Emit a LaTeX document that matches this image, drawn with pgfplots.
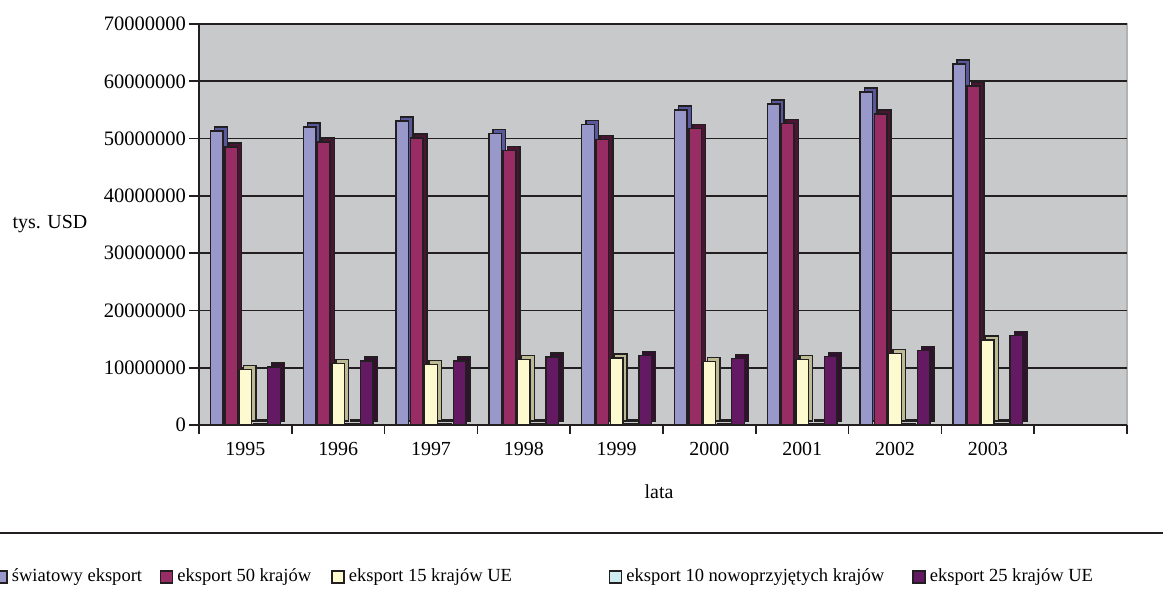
\documentclass[border=0pt]{standalone}
\usepackage{fontspec}
\setmainfont{Liberation Serif}
\usepackage{pgfplots}
\usepackage{pgfplotstable}
\pgfplotsset{compat=1.18}

\definecolor{wall}{RGB}{200,201,203}
\definecolor{fa}{RGB}{152,152,202}
\definecolor{sa}{RGB}{88,88,156}
\definecolor{fb}{RGB}{152,44,100}
\definecolor{sb}{RGB}{72,22,50}
\definecolor{fc}{RGB}{252,250,206}
\definecolor{sc}{RGB}{188,186,148}
\definecolor{fd}{RGB}{206,236,240}
\definecolor{sd}{RGB}{130,170,175}
\definecolor{fe}{RGB}{100,26,98}
\definecolor{se}{RGB}{52,16,48}
\definecolor{edge}{RGB}{35,31,32}

\pgfplotstableread{
x sw e50 ue15 n10 ue25
0 51300000 48500000 9700000 300000 10100000
1 52000000 49400000 10700000 300000 11200000
2 53100000 50100000 10600000 300000 11200000
3 50900000 47900000 11400000 300000 11900000
4 52500000 49800000 11700000 300000 12100000
5 55000000 51800000 11100000 300000 11600000
6 56000000 52600000 11400000 300000 12000000
7 58100000 54300000 12500000 300000 13000000
8 63000000 59200000 14800000 300000 15600000
}\data

\pgfplotsset{
  front/.style={ybar, bar width=6.3bp, bar shift=#1, draw=edge, line width=0.75bp},
  back/.style={ybar, bar width=6.3bp, bar shift=#1, draw=edge, line width=0.75bp,
     xshift=2.1bp, yshift=2bp, forget plot},
}

\begin{document}
\begin{tikzpicture}[font=\fontsize{10}{12}\selectfont]
\path[use as bounding box] (0,0) rectangle (581.5bp,305bp);
\begin{axis}[
  at={(99.5bp,92.5bp)}, anchor=south west,
  scale only axis, width=464bp, height=200.5bp,
  xmin=-0.5, xmax=9.5, ymin=0, ymax=70000000,
  scaled y ticks=false,
  axis background/.style={fill=wall, draw=gray!60, line width=0.6bp},
  axis x line*=bottom, axis y line*=left,
  axis line style={edge, line width=1bp},
  xtick={0,...,8},
  xticklabels={1995,1996,1997,1998,1999,2000,2001,2002,2003},
  minor xtick={-0.5,0.5,...,9.5},
  major x tick style={draw=none},
  minor x tick style={edge, line width=0.8bp},
  minor tick length=4.5bp,
  major tick length=5bp,
  tick align=outside,
  ytick={0,10000000,20000000,30000000,40000000,50000000,60000000,70000000},
  yticklabels={0,10000000,20000000,30000000,40000000,50000000,60000000,70000000},
  y tick style={edge, line width=0.8bp},
  ymajorgrids, major grid style={edge, line width=0.9bp},
  xticklabel style={yshift=0bp},
  yticklabel style={xshift=2bp, font=\fontsize{10.3}{12}\selectfont},
  xlabel={lata}, ylabel={tys. USD},
  every axis x label/.style={at={(rel axis cs:0.5,0)}, anchor=center, yshift=-33.5bp, xshift=-2bp},
  every axis y label/.style={at={(rel axis cs:0,0.5)}, anchor=center, xshift=-74.5bp},
  legend columns=5,
  legend style={at={(rel axis cs:-0.2209,-0.379)}, anchor=west, draw=none, fill=none,
    inner sep=0pt, nodes={inner sep=0pt},
    font=\fontsize{9.3}{11}\selectfont,
    /tikz/every even column/.append style={column sep=0bp},
    /tikz/every odd column/.append style={column sep=2bp}},
  legend image code/.code={\draw[#1, line width=0.75bp, draw=edge] (0bp,-3bp) rectangle (6bp,3bp);},
]
\addplot[back=-14.3bp, fill=sa] table[x=x,y=sw]{\data};
\addplot[front=-14.3bp, fill=fa] table[x=x,y=sw]{\data};
\addlegendentry{\makebox[74bp][l]{światowy eksport}}
\addplot[back=-7.15bp, fill=sb] table[x=x,y=e50]{\data};
\addplot[front=-7.15bp, fill=fb] table[x=x,y=e50]{\data};
\addlegendentry{\makebox[77bp][l]{eksport 50 krajów}}
\addplot[back=0bp, fill=sc] table[x=x,y=ue15]{\data};
\addplot[front=0bp, fill=fc] table[x=x,y=ue15]{\data};
\addlegendentry{\makebox[130bp][l]{eksport 15 krajów UE}}
\addplot[back=7.15bp, fill=sd] table[x=x,y=n10]{\data};
\addplot[front=7.15bp, fill=fd] table[x=x,y=n10]{\data};
\addlegendentry{\makebox[143bp][l]{eksport 10 nowoprzyjętych krajów}}
\addplot[back=14.3bp, fill=se] table[x=x,y=ue25]{\data};
\addplot[front=14.3bp, fill=fe] table[x=x,y=ue25]{\data};
\addlegendentry{eksport 25 krajów UE}
\end{axis}
\draw[edge, line width=1bp] (0,38.5bp) -- (581.5bp,38.5bp);
\end{tikzpicture}
\end{document}
